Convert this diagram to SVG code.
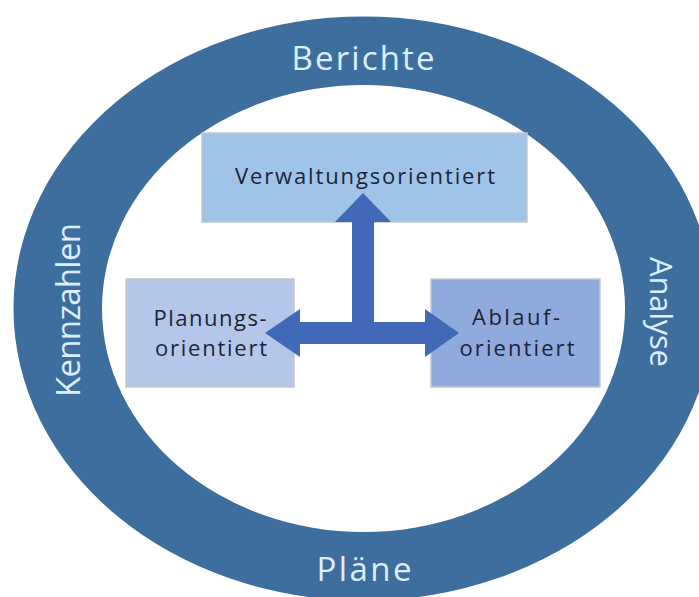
<svg xmlns="http://www.w3.org/2000/svg" width="699" height="597" viewBox="0 0 699 597">
<style>
.ringlbl{font-family:"Open Sans","Liberation Sans",sans-serif;font-size:33px;fill:#dcefff;text-anchor:middle}
.boxlbl{font-family:"Open Sans","Liberation Sans",sans-serif;font-size:22px;fill:#1b2538;text-anchor:middle}
.box{stroke:#c3c8d0;stroke-width:1.5}
</style>
<rect width="699" height="597" fill="#ffffff"/>
<g id="ring">
<path fill="#3e6e9e" fill-rule="evenodd" d="M13.5,308.5 a350,292 0 1,0 700,0 a350,292 0 1,0 -700,0 Z M102,308.5 a261.5,223.5 0 1,0 523,0 a261.5,223.5 0 1,0 -523,0 Z"/>
<text class="ringlbl" x="363" y="70" textLength="143" lengthAdjust="spacing">Berichte</text>
<text class="ringlbl" x="364" y="581" textLength="95" lengthAdjust="spacing">Pläne</text>
<text class="ringlbl" transform="translate(80,310) rotate(-90)" x="0" y="0" textLength="174" lengthAdjust="spacing">Kennzahlen</text>
<text class="ringlbl" style="font-size:31px" transform="translate(650,312) rotate(90)" x="0" y="0" textLength="110" lengthAdjust="spacing">Analyse</text>
</g>
<g id="verwaltung">
<rect class="box" x="202" y="133" width="325" height="89" fill="#9fc4e8"/>
<text class="boxlbl" x="365" y="184" textLength="260" lengthAdjust="spacing">Verwaltungsorientiert</text>
</g>
<g id="planung">
<rect class="box" x="126" y="279" width="168" height="108" fill="#b4c7e8"/>
<text class="boxlbl" x="210" y="326" textLength="113" lengthAdjust="spacing">Planungs-</text>
<text class="boxlbl" x="211" y="356" textLength="112" lengthAdjust="spacing">orientiert</text>
</g>
<g id="ablauf">
<rect class="box" x="431" y="279" width="169" height="108" fill="#8faadc"/>
<text class="boxlbl" x="516" y="325" textLength="88" lengthAdjust="spacing">Ablauf-</text>
<text class="boxlbl" x="517" y="356" textLength="115" lengthAdjust="spacing">orientiert</text>
</g>
<g id="connectors">
<polygon fill="#4169b7" points="363,193 391,222 374,222 374,322 425,322 425,309 459,333 425,357 425,344 300,344 300,357 265,333 300,309 300,322 352,322 352,222 335,222"/>
</g>
</svg>
